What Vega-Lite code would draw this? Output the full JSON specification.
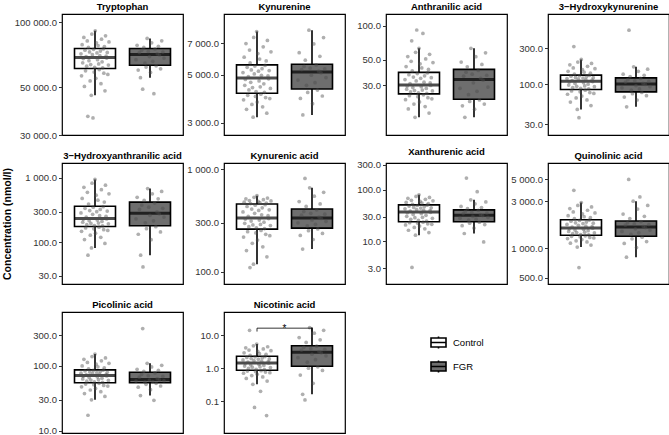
{
  "$schema": "https://vega.github.io/schema/vega-lite/v6.json",
  "autosize": {"type": "pad"},
  "padding": {"left": 2, "top": 0, "right": 0, "bottom": 0},
  "background": "white",
  "data": {
    "values": "m,g,v\nTRP,Control,71300\nTRP,Control,56400\nTRP,Control,78600\nTRP,Control,64750\nTRP,Control,67750\nTRP,Control,84860\nTRP,Control,50360\nTRP,Control,74100\nTRP,Control,59480\nTRP,Control,69200\nTRP,Control,62500\nTRP,Control,81740\nTRP,Control,36600\nTRP,Control,76280\nTRP,Control,66250\nTRP,Control,72700\nTRP,Control,53400\nTRP,Control,63600\nTRP,Control,45800\nTRP,Control,87980\nTRP,Control,70600\nTRP,Control,36000\nTRP,Control,74800\nTRP,Control,58720\nTRP,Control,61750\nTRP,Control,91100\nTRP,Control,54920\nTRP,Control,80180\nTRP,Control,72000\nTRP,Control,67000\nTRP,Control,77840\nTRP,Control,64000\nTRP,Control,60240\nTRP,Control,69900\nTRP,Control,73400\nTRP,Control,51880\nTRP,Control,83300\nTRP,Control,65500\nTRP,Control,61400\nTRP,Control,75150\nTRP,Control,57960\nTRP,Control,77060\nTRP,Control,48080\nTRP,Control,86420\nTRP,Control,69550\nTRP,Control,68125\nTRP,Control,72350\nTRP,Control,57200\nTRP,Control,63250\nTRP,Control,80960\nTRP,FGR,66950\nTRP,FGR,78050\nTRP,FGR,59980\nTRP,FGR,72210\nTRP,FGR,55300\nTRP,FGR,74090\nTRP,FGR,48900\nTRP,FGR,76350\nTRP,FGR,64640\nTRP,FGR,61930\nTRP,FGR,84000\nTRP,FGR,73150\nTRP,FGR,69260\nTRP,FGR,58420\nTRP,FGR,80175\nTRP,FGR,65795\nTRP,FGR,46600\nTRP,FGR,75030\nTRP,FGR,62710\nTRP,FGR,71270\nTRP,FGR,77200\nTRP,FGR,70415\nTRP,FGR,60760\nTRP,FGR,81875\nTRP,FGR,72680\nTRP,FGR,68105\nKYN,Control,5122\nKYN,Control,3831\nKYN,Control,6034\nKYN,Control,4470\nKYN,Control,4758\nKYN,Control,6982\nKYN,Control,3459\nKYN,Control,5414\nKYN,Control,4017\nKYN,Control,4903\nKYN,Control,4254\nKYN,Control,6508\nKYN,Control,5679\nKYN,Control,4614\nKYN,Control,5268\nKYN,Control,3645\nKYN,Control,4362\nKYN,Control,3180\nKYN,Control,7456\nKYN,Control,5049\nKYN,Control,5487\nKYN,Control,3971\nKYN,Control,4182\nKYN,Control,7930\nKYN,Control,3738\nKYN,Control,6271\nKYN,Control,5195\nKYN,Control,4686\nKYN,Control,5916\nKYN,Control,4398\nKYN,Control,4064\nKYN,Control,4976\nKYN,Control,5341\nKYN,Control,3552\nKYN,Control,6745\nKYN,Control,4542\nKYN,Control,4146\nKYN,Control,5524\nKYN,Control,3924\nKYN,Control,5797\nKYN,Control,3320\nKYN,Control,7219\nKYN,Control,4940\nKYN,Control,4794\nKYN,Control,5232\nKYN,Control,3878\nKYN,Control,4326\nKYN,Control,6390\nKYN,FGR,4725\nKYN,FGR,6335\nKYN,FGR,3884\nKYN,FGR,5285\nKYN,FGR,3260\nKYN,FGR,5465\nKYN,FGR,5845\nKYN,FGR,4470\nKYN,FGR,4144\nKYN,FGR,8050\nKYN,FGR,5375\nKYN,FGR,4980\nKYN,FGR,3676\nKYN,FGR,6948\nKYN,FGR,4598\nKYN,FGR,5555\nKYN,FGR,4248\nKYN,FGR,5195\nKYN,FGR,6090\nKYN,FGR,5108\nKYN,FGR,3988\nKYN,FGR,7438\nKYN,FGR,5330\nKYN,FGR,4853\nAA,Control,33.5\nAA,Control,22.3\nAA,Control,43.7\nAA,Control,27.6\nAA,Control,29.5\nAA,Control,53.4\nAA,Control,18.5\nAA,Control,37.0\nAA,Control,24.2\nAA,Control,30.9\nAA,Control,26.1\nAA,Control,48.6\nAA,Control,73.6\nAA,Control,40.0\nAA,Control,28.5\nAA,Control,35.3\nAA,Control,20.4\nAA,Control,26.8\nAA,Control,15.6\nAA,Control,58.3\nAA,Control,32.6\nAA,Control,91.6\nAA,Control,37.9\nAA,Control,23.7\nAA,Control,25.6\nAA,Control,63.2\nAA,Control,21.3\nAA,Control,46.1\nAA,Control,34.4\nAA,Control,29.0\nAA,Control,42.5\nAA,Control,27.1\nAA,Control,85.5\nAA,Control,24.6\nAA,Control,31.8\nAA,Control,36.2\nAA,Control,19.4\nAA,Control,51.0\nAA,Control,28.0\nAA,Control,25.3\nAA,Control,38.4\nAA,Control,23.2\nAA,Control,41.2\nAA,Control,17.0\nAA,Control,55.9\nAA,Control,31.3\nAA,Control,29.8\nAA,Control,34.8\nAA,Control,22.7\nAA,Control,26.6\nAA,Control,47.3\nAA,FGR,28.1\nAA,FGR,47.8\nAA,FGR,19.7\nAA,FGR,35.9\nAA,FGR,15.6\nAA,FGR,38.9\nAA,FGR,43.4\nAA,FGR,24.7\nAA,FGR,21.5\nAA,FGR,63.2\nAA,FGR,37.4\nAA,FGR,31.4\nAA,FGR,18.4\nAA,FGR,53.3\nAA,FGR,26.4\nAA,FGR,40.4\nAA,FGR,22.2\nAA,FGR,34.4\nAA,FGR,45.6\nAA,FGR,33.1\nAA,FGR,20.4\nAA,FGR,57.7\nAA,FGR,36.6\nAA,FGR,28.8\nHK,Control,119.4\nHK,Control,74.2\nHK,Control,149.0\nHK,Control,98.2\nHK,Control,108.0\nHK,Control,181.5\nHK,Control,58.5\nHK,Control,128.3\nHK,Control,82.0\nHK,Control,112.7\nHK,Control,90.8\nHK,Control,165.2\nHK,Control,316\nHK,Control,136.8\nHK,Control,103.1\nHK,Control,123.8\nHK,Control,66.4\nHK,Control,94.5\nHK,Control,46.8\nHK,Control,197.7\nHK,Control,117.2\nHK,Control,36.4\nHK,Control,130.5\nHK,Control,80.0\nHK,Control,88.4\nHK,Control,214\nHK,Control,70.3\nHK,Control,157.1\nHK,Control,121.6\nHK,Control,105.6\nHK,Control,144.9\nHK,Control,95.7\nHK,Control,84.0\nHK,Control,114.9\nHK,Control,126.0\nHK,Control,62.4\nHK,Control,173.4\nHK,Control,100.7\nHK,Control,87.1\nHK,Control,131.6\nHK,Control,78.1\nHK,Control,140.8\nHK,Control,52.7\nHK,Control,189.6\nHK,Control,113.8\nHK,Control,109.3\nHK,Control,122.7\nHK,Control,76.1\nHK,Control,93.3\nHK,Control,161.2\nHK,FGR,90.4\nHK,FGR,136.7\nHK,FGR,68.2\nHK,FGR,107.3\nHK,FGR,50.7\nHK,FGR,115.7\nHK,FGR,521\nHK,FGR,126.9\nHK,FGR,84.0\nHK,FGR,75.4\nHK,FGR,171\nHK,FGR,111.5\nHK,FGR,96.8\nHK,FGR,62.3\nHK,FGR,149.0\nHK,FGR,87.2\nHK,FGR,119.9\nHK,FGR,78.3\nHK,FGR,103.1\nHK,FGR,131.8\nHK,FGR,99.9\nHK,FGR,71.1\nHK,FGR,158.8\nHK,FGR,109.4\nHK,FGR,93.6\nHAA,Control,285\nHAA,Control,147.7\nHAA,Control,479\nHAA,Control,204.5\nHAA,Control,227.3\nHAA,Control,712\nHAA,Control,110\nHAA,Control,337\nHAA,Control,166.6\nHAA,Control,246\nHAA,Control,187.4\nHAA,Control,595\nHAA,Control,63\nHAA,Control,392\nHAA,Control,215.9\nHAA,Control,311\nHAA,Control,128.9\nHAA,Control,196\nHAA,Control,81.7\nHAA,Control,828\nHAA,Control,272\nHAA,Control,350\nHAA,Control,161.9\nHAA,Control,181.7\nHAA,Control,944\nHAA,Control,138.3\nHAA,Control,537\nHAA,Control,298\nHAA,Control,221.6\nHAA,Control,450\nHAA,Control,198.8\nHAA,Control,171.3\nHAA,Control,259\nHAA,Control,324\nHAA,Control,119.4\nHAA,Control,654\nHAA,Control,210.2\nHAA,Control,178.9\nHAA,Control,356\nHAA,Control,157.1\nHAA,Control,421\nHAA,Control,95.8\nHAA,Control,770\nHAA,Control,252.5\nHAA,Control,230.2\nHAA,Control,304.5\nHAA,Control,152.4\nHAA,Control,193.1\nHAA,Control,566\nHAA,FGR,231\nHAA,FGR,498.6\nHAA,FGR,133.2\nHAA,FGR,323.4\nHAA,FGR,63\nHAA,FGR,378.6\nHAA,FGR,41.4\nHAA,FGR,446.2\nHAA,FGR,200.4\nHAA,FGR,162.5\nHAA,FGR,682\nHAA,FGR,351\nHAA,FGR,261.6\nHAA,FGR,109.8\nHAA,FGR,564.1\nHAA,FGR,215.7\nHAA,FGR,406.2\nHAA,FGR,174.2\nHAA,FGR,295.8\nHAA,FGR,472.4\nHAA,FGR,276.9\nHAA,FGR,144.9\nHAA,FGR,616.5\nHAA,FGR,337.2\nHAA,FGR,246.3\nKA,Control,383.6\nKA,Control,217.4\nKA,Control,476.8\nKA,Control,297\nKA,Control,326.6\nKA,Control,514.4\nKA,Control,160.6\nKA,Control,433.2\nKA,Control,245.8\nKA,Control,346.4\nKA,Control,274.8\nKA,Control,495.6\nKA,Control,109.5\nKA,Control,462.7\nKA,Control,311.8\nKA,Control,408.4\nKA,Control,189\nKA,Control,285.9\nKA,Control,118\nKA,Control,533.2\nKA,Control,371.2\nKA,Control,445.6\nKA,Control,238.7\nKA,Control,267.4\nKA,Control,552\nKA,Control,203.2\nKA,Control,486.2\nKA,Control,396\nKA,Control,319.2\nKA,Control,472.1\nKA,Control,289.6\nKA,Control,252.9\nKA,Control,358.8\nKA,Control,420.8\nKA,Control,174.8\nKA,Control,505\nKA,Control,304.4\nKA,Control,263.7\nKA,Control,451.8\nKA,Control,231.6\nKA,Control,467.4\nKA,Control,139.3\nKA,Control,523.8\nKA,Control,352.6\nKA,Control,330.3\nKA,Control,402.2\nKA,Control,224.5\nKA,Control,282.2\nKA,Control,490.9\nKA,FGR,300\nKA,FGR,484\nKA,FGR,226\nKA,FGR,356.5\nKA,FGR,166\nKA,FGR,386.5\nKA,FGR,815\nKA,FGR,434\nKA,FGR,279.6\nKA,FGR,251\nKA,FGR,659\nKA,FGR,371.5\nKA,FGR,320.4\nKA,FGR,206\nKA,FGR,546.5\nKA,FGR,289.8\nKA,FGR,401.5\nKA,FGR,261\nKA,FGR,341.5\nKA,FGR,459\nKA,FGR,330.6\nKA,FGR,236\nKA,FGR,596.5\nKA,FGR,364\nKA,FGR,310.2\nXA,Control,42.4\nXA,Control,20.7\nXA,Control,56.3\nXA,Control,30.4\nXA,Control,35.6\nXA,Control,67.8\nXA,Control,16.3\nXA,Control,47.9\nXA,Control,22.8\nXA,Control,38.3\nXA,Control,26.5\nXA,Control,62.1\nXA,Control,3.1\nXA,Control,52.0\nXA,Control,33.0\nXA,Control,45.1\nXA,Control,18.5\nXA,Control,28.5\nXA,Control,13.1\nXA,Control,73.6\nXA,Control,41.0\nXA,Control,49.2\nXA,Control,22.3\nXA,Control,25.2\nXA,Control,79.3\nXA,Control,19.6\nXA,Control,59.2\nXA,Control,43.8\nXA,Control,34.3\nXA,Control,54.9\nXA,Control,29.1\nXA,Control,23.4\nXA,Control,39.6\nXA,Control,46.5\nXA,Control,17.4\nXA,Control,65.0\nXA,Control,31.7\nXA,Control,24.6\nXA,Control,49.9\nXA,Control,21.7\nXA,Control,53.5\nXA,Control,14.7\nXA,Control,70.7\nXA,Control,39.0\nXA,Control,36.3\nXA,Control,44.4\nXA,Control,21.2\nXA,Control,27.8\nXA,Control,60.6\nXA,FGR,27.9\nXA,FGR,47.3\nXA,FGR,20.0\nXA,FGR,34.4\nXA,FGR,14.1\nXA,FGR,37.8\nXA,FGR,167\nXA,FGR,42.7\nXA,FGR,25.5\nXA,FGR,22.4\nXA,FGR,63.3\nXA,FGR,36.1\nXA,FGR,30.2\nXA,FGR,18.0\nXA,FGR,53.0\nXA,FGR,26.7\nXA,FGR,91.4\nXA,FGR,39.5\nXA,FGR,23.4\nXA,FGR,32.7\nXA,FGR,45.0\nXA,FGR,31.4\nXA,FGR,9.7\nXA,FGR,21.0\nXA,FGR,57.6\nXA,FGR,35.2\nXA,FGR,29.0\nQA,Control,1740\nQA,Control,1252\nQA,Control,2139\nQA,Control,1477\nQA,Control,1578\nQA,Control,2524\nQA,Control,1122\nQA,Control,1877\nQA,Control,1317\nQA,Control,1637\nQA,Control,1401\nQA,Control,2332\nQA,Control,3880\nQA,Control,1994\nQA,Control,1527\nQA,Control,1809\nQA,Control,1187\nQA,Control,1439\nQA,Control,1024\nQA,Control,2717\nQA,Control,1706\nQA,Control,634\nQA,Control,1912\nQA,Control,1301\nQA,Control,1375\nQA,Control,2910\nQA,Control,1220\nQA,Control,2235\nQA,Control,1775\nQA,Control,1552\nQA,Control,2091\nQA,Control,1451\nQA,Control,1334\nQA,Control,1672\nQA,Control,1843\nQA,Control,1154\nQA,Control,2428\nQA,Control,1502\nQA,Control,1363\nQA,Control,1929\nQA,Control,1285\nQA,Control,2042\nQA,Control,1073\nQA,Control,2621\nQA,Control,1654\nQA,Control,1593\nQA,Control,1792\nQA,Control,1269\nQA,Control,1426\nQA,Control,2283\nQA,FGR,1477\nQA,FGR,2220\nQA,FGR,1114\nQA,FGR,1711\nQA,FGR,809\nQA,FGR,1810\nQA,FGR,5000\nQA,FGR,1997\nQA,FGR,1382\nQA,FGR,1242\nQA,FGR,3000\nQA,FGR,1761\nQA,FGR,1572\nQA,FGR,1013\nQA,FGR,2498\nQA,FGR,1429\nQA,FGR,3320\nQA,FGR,1860\nQA,FGR,1293\nQA,FGR,1661\nQA,FGR,2108\nQA,FGR,1620\nQA,FGR,1165\nQA,FGR,2721\nQA,FGR,1736\nQA,FGR,1525\nPA,Control,77.4\nPA,Control,47.5\nPA,Control,100.1\nPA,Control,63\nPA,Control,69.4\nPA,Control,126.6\nPA,Control,37.5\nPA,Control,83.7\nPA,Control,52.5\nPA,Control,72.6\nPA,Control,58.2\nPA,Control,113.3\nPA,Control,17.3\nPA,Control,90.2\nPA,Control,66.2\nPA,Control,80.5\nPA,Control,42.5\nPA,Control,60.6\nPA,Control,30\nPA,Control,139.8\nPA,Control,75.8\nPA,Control,85.3\nPA,Control,51.3\nPA,Control,56.6\nPA,Control,153\nPA,Control,45\nPA,Control,106.7\nPA,Control,79\nPA,Control,67.8\nPA,Control,96.8\nPA,Control,61.4\nPA,Control,53.8\nPA,Control,74.2\nPA,Control,82.1\nPA,Control,40\nPA,Control,120\nPA,Control,64.6\nPA,Control,55.8\nPA,Control,86.1\nPA,Control,50\nPA,Control,93.5\nPA,Control,33.8\nPA,Control,133.2\nPA,Control,73.4\nPA,Control,70.2\nPA,Control,79.7\nPA,Control,48.8\nPA,Control,59.8\nPA,Control,110\nPA,FGR,58.4\nPA,FGR,88.9\nPA,FGR,47\nPA,FGR,67.1\nPA,FGR,34.9\nPA,FGR,74.4\nPA,FGR,379\nPA,FGR,82.8\nPA,FGR,56.3\nPA,FGR,52\nPA,FGR,110\nPA,FGR,70.8\nPA,FGR,60.4\nPA,FGR,42.9\nPA,FGR,96.4\nPA,FGR,57.3\nPA,FGR,29.5\nPA,FGR,78\nPA,FGR,54\nPA,FGR,63.5\nPA,FGR,85.8\nPA,FGR,61.1\nPA,FGR,49\nPA,FGR,102.5\nPA,FGR,68.9\nPA,FGR,59.1\nNIC,Control,1.78\nNIC,Control,0.707\nNIC,Control,2.906\nNIC,Control,1.155\nNIC,Control,1.383\nNIC,Control,4.138\nNIC,Control,0.489\nNIC,Control,2.12\nNIC,Control,0.816\nNIC,Control,1.525\nNIC,Control,0.984\nNIC,Control,3.522\nNIC,Control,14\nNIC,Control,2.444\nNIC,Control,1.269\nNIC,Control,1.95\nNIC,Control,0.598\nNIC,Control,1.07\nNIC,Control,0.325\nNIC,Control,4.754\nNIC,Control,1.695\nNIC,Control,0.065\nNIC,Control,2.205\nNIC,Control,0.788\nNIC,Control,0.927\nNIC,Control,5.37\nNIC,Control,0.652\nNIC,Control,3.214\nNIC,Control,1.865\nNIC,Control,1.326\nNIC,Control,2.752\nNIC,Control,1.098\nNIC,Control,0.2\nNIC,Control,0.843\nNIC,Control,1.61\nNIC,Control,2.035\nNIC,Control,0.543\nNIC,Control,3.83\nNIC,Control,1.212\nNIC,Control,0.899\nNIC,Control,2.248\nNIC,Control,0.761\nNIC,Control,2.598\nNIC,Control,0.037\nNIC,Control,0.407\nNIC,Control,4.446\nNIC,Control,1.568\nNIC,Control,1.412\nNIC,Control,1.908\nNIC,Control,0.734\nNIC,Control,1.041\nNIC,Control,3.368\nNIC,FGR,2.08\nNIC,FGR,8.42\nNIC,FGR,0.62\nNIC,FGR,3.54\nNIC,FGR,0.162\nNIC,FGR,4.26\nNIC,FGR,0.11\nNIC,FGR,6.0\nNIC,FGR,1.52\nNIC,FGR,1.0\nNIC,FGR,16.9\nNIC,FGR,3.9\nNIC,FGR,2.64\nNIC,FGR,0.35\nNIC,FGR,11.45\nNIC,FGR,1.80\nNIC,FGR,4.61\nNIC,FGR,1.10\nNIC,FGR,3.19\nNIC,FGR,7.21\nNIC,FGR,2.92\nNIC,FGR,0.854\nNIC,FGR,13.9\nNIC,FGR,3.72\nNIC,FGR,2.36",
    "format": {"type": "csv", "parse": {"v": "number"}}
  },
  "datasets": {
    "box": [
      {"m": "TRP", "g": "Control", "lo": 45800, "q1": 61000, "med": 68500, "q3": 75500, "hi": 91100},
      {"m": "TRP", "g": "FGR", "lo": 55300, "q1": 63100, "med": 70800, "q3": 75500, "hi": 84000},
      {"m": "KYN", "g": "Control", "lo": 3180, "q1": 4110, "med": 4830, "q3": 5560, "hi": 7930},
      {"m": "KYN", "g": "FGR", "lo": 3260, "q1": 4300, "med": 5150, "q3": 5600, "hi": 8050},
      {"m": "AA", "g": "Control", "lo": 15.6, "q1": 25.1, "med": 30.0, "q3": 38.8, "hi": 63.2},
      {"m": "AA", "g": "FGR", "lo": 15.6, "q1": 22.5, "med": 33.6, "q3": 41.2, "hi": 63.2},
      {"m": "HK", "g": "Control", "lo": 46.8, "q1": 85.9, "med": 110.5, "q3": 132.7, "hi": 214},
      {"m": "HK", "g": "FGR", "lo": 50.7, "q1": 79.8, "med": 101, "q3": 122, "hi": 171},
      {"m": "HAA", "g": "Control", "lo": 81.7, "q1": 176, "med": 233, "q3": 363, "hi": 944},
      {"m": "HAA", "g": "FGR", "lo": 63, "q1": 180, "med": 282, "q3": 420, "hi": 682},
      {"m": "KA", "g": "Control", "lo": 118, "q1": 260, "med": 334, "q3": 458, "hi": 552},
      {"m": "KA", "g": "FGR", "lo": 166, "q1": 266, "med": 334, "q3": 409, "hi": 659},
      {"m": "XA", "g": "Control", "lo": 13.1, "q1": 23.9, "med": 36.9, "q3": 50.6, "hi": 79.3},
      {"m": "XA", "g": "FGR", "lo": 14.1, "q1": 23.9, "med": 31.8, "q3": 40.4, "hi": 63.3},
      {"m": "QA", "g": "Control", "lo": 1024, "q1": 1350, "med": 1603, "q3": 1946, "hi": 2910},
      {"m": "QA", "g": "FGR", "lo": 809, "q1": 1318, "med": 1636, "q3": 1885, "hi": 3000},
      {"m": "PA", "g": "Control", "lo": 30, "q1": 55, "med": 71, "q3": 86.9, "hi": 153},
      {"m": "PA", "g": "FGR", "lo": 34.9, "q1": 55, "med": 61.7, "q3": 79.8, "hi": 110},
      {"m": "NIC", "g": "Control", "lo": 0.325, "q1": 0.87, "med": 1.44, "q3": 2.29, "hi": 5.37},
      {"m": "NIC", "g": "FGR", "lo": 0.162, "q1": 1.15, "med": 3.01, "q3": 4.79, "hi": 16.9}
    ]
  },
  "transform": [
    {"window": [{"op": "row_number", "as": "i"}], "groupby": ["m", "g"]},
    {"window": [{"op": "percent_rank", "as": "j"}], "sort": [{"field": "i"}], "groupby": ["m", "g"]}
  ],
  "columns": 4,
  "spacing": {"row": 28, "column": 41},
  "bounds": "flush",
  "concat": [
    {"title": "Tryptophan", "width": 121, "height": 121,
     "encoding": {"x": {"field": "g", "type": "nominal", "axis": null}},
     "layer": [
      {"data": {"name": "box"}, "transform": [{"filter": "datum.m == 'TRP'"}], "layer": [
        {"mark": "rule", "encoding": {"y": {"field": "lo", "type": "quantitative", "title": null, "scale": {"type": "log", "domain": [30000, 109000], "nice": false}, "axis": {"values": [30000, 50000, 100000], "title": null}}, "y2": {"field": "hi"}}},
        {"mark": {"type": "bar", "width": 41}, "encoding": {"y": {"field": "q1", "type": "quantitative", "title": null}, "y2": {"field": "q3"}, "color": {"field": "g", "type": "nominal", "title": null}}},
        {"mark": {"type": "tick", "size": 41}, "encoding": {"y": {"field": "med", "type": "quantitative", "title": null}}}
      ]},
      {"transform": [{"filter": "datum.m == 'TRP'"}], "mark": "point", "encoding": {"xOffset": {"field": "j", "type": "quantitative", "scale": {"domain": [0, 1], "range": [0, 28]}}, "y": {"field": "v", "type": "quantitative", "title": null}}}
     ]},
    {"title": "Kynurenine", "width": 121, "height": 121,
     "encoding": {"x": {"field": "g", "type": "nominal", "axis": null}},
     "layer": [
      {"data": {"name": "box"}, "transform": [{"filter": "datum.m == 'KYN'"}], "layer": [
        {"mark": "rule", "encoding": {"y": {"field": "lo", "type": "quantitative", "title": null, "scale": {"type": "log", "domain": [2630, 9570], "nice": false}, "axis": {"values": [3000, 5000, 7000], "title": null}}, "y2": {"field": "hi"}}},
        {"mark": {"type": "bar", "width": 41}, "encoding": {"y": {"field": "q1", "type": "quantitative", "title": null}, "y2": {"field": "q3"}, "color": {"field": "g", "type": "nominal", "title": null}}},
        {"mark": {"type": "tick", "size": 41}, "encoding": {"y": {"field": "med", "type": "quantitative", "title": null}}}
      ]},
      {"transform": [{"filter": "datum.m == 'KYN'"}], "mark": "point", "encoding": {"xOffset": {"field": "j", "type": "quantitative", "scale": {"domain": [0, 1], "range": [0, 28]}}, "y": {"field": "v", "type": "quantitative", "title": null}}}
     ]},
    {"title": "Anthranilic acid", "width": 121, "height": 121,
     "encoding": {"x": {"field": "g", "type": "nominal", "axis": null}},
     "layer": [
      {"data": {"name": "box"}, "transform": [{"filter": "datum.m == 'AA'"}], "layer": [
        {"mark": "rule", "encoding": {"y": {"field": "lo", "type": "quantitative", "title": null, "scale": {"type": "log", "domain": [10.9, 126.7], "nice": false}, "axis": {"values": [30, 50, 100], "title": null}}, "y2": {"field": "hi"}}},
        {"mark": {"type": "bar", "width": 41}, "encoding": {"y": {"field": "q1", "type": "quantitative", "title": null}, "y2": {"field": "q3"}, "color": {"field": "g", "type": "nominal", "title": null}}},
        {"mark": {"type": "tick", "size": 41}, "encoding": {"y": {"field": "med", "type": "quantitative", "title": null}}}
      ]},
      {"transform": [{"filter": "datum.m == 'AA'"}], "mark": "point", "encoding": {"xOffset": {"field": "j", "type": "quantitative", "scale": {"domain": [0, 1], "range": [0, 28]}}, "y": {"field": "v", "type": "quantitative", "title": null}}}
     ]},
    {"title": "3−Hydroxykynurenine", "width": 121, "height": 121,
     "encoding": {"x": {"field": "g", "type": "nominal", "axis": null}},
     "layer": [
      {"data": {"name": "box"}, "transform": [{"filter": "datum.m == 'HK'"}], "layer": [
        {"mark": "rule", "encoding": {"y": {"field": "lo", "type": "quantitative", "title": null, "scale": {"type": "log", "domain": [21.5, 851], "nice": false}, "axis": {"values": [30, 100, 300], "title": null}}, "y2": {"field": "hi"}}},
        {"mark": {"type": "bar", "width": 41}, "encoding": {"y": {"field": "q1", "type": "quantitative", "title": null}, "y2": {"field": "q3"}, "color": {"field": "g", "type": "nominal", "title": null}}},
        {"mark": {"type": "tick", "size": 41}, "encoding": {"y": {"field": "med", "type": "quantitative", "title": null}}}
      ]},
      {"transform": [{"filter": "datum.m == 'HK'"}], "mark": "point", "encoding": {"xOffset": {"field": "j", "type": "quantitative", "scale": {"domain": [0, 1], "range": [0, 28]}}, "y": {"field": "v", "type": "quantitative", "title": null}}}
     ]},
    {"title": "3−Hydroxyanthranilic acid", "width": 121, "height": 121,
     "encoding": {"x": {"field": "g", "type": "nominal", "axis": null}},
     "layer": [
      {"data": {"name": "box"}, "transform": [{"filter": "datum.m == 'HAA'"}], "layer": [
        {"mark": "rule", "encoding": {"y": {"field": "lo", "type": "quantitative", "title": "Concentration (nmol/l)", "scale": {"type": "log", "domain": [22.5, 1700], "nice": false}, "axis": {"values": [30, 100, 300, 1000], "title": "Concentration (nmol/l)", "titlePadding": 12}}, "y2": {"field": "hi"}}},
        {"mark": {"type": "bar", "width": 41}, "encoding": {"y": {"field": "q1", "type": "quantitative", "title": "Concentration (nmol/l)"}, "y2": {"field": "q3"}, "color": {"field": "g", "type": "nominal", "title": null}}},
        {"mark": {"type": "tick", "size": 41}, "encoding": {"y": {"field": "med", "type": "quantitative", "title": "Concentration (nmol/l)"}}}
      ]},
      {"transform": [{"filter": "datum.m == 'HAA'"}], "mark": "point", "encoding": {"xOffset": {"field": "j", "type": "quantitative", "scale": {"domain": [0, 1], "range": [0, 28]}}, "y": {"field": "v", "type": "quantitative", "title": "Concentration (nmol/l)"}}}
     ]},
    {"title": "Kynurenic acid", "width": 121, "height": 121,
     "encoding": {"x": {"field": "g", "type": "nominal", "axis": null}},
     "layer": [
      {"data": {"name": "box"}, "transform": [{"filter": "datum.m == 'KA'"}], "layer": [
        {"mark": "rule", "encoding": {"y": {"field": "lo", "type": "quantitative", "title": null, "scale": {"type": "log", "domain": [75.6, 1154], "nice": false}, "axis": {"values": [100, 300, 1000], "title": null}}, "y2": {"field": "hi"}}},
        {"mark": {"type": "bar", "width": 41}, "encoding": {"y": {"field": "q1", "type": "quantitative", "title": null}, "y2": {"field": "q3"}, "color": {"field": "g", "type": "nominal", "title": null}}},
        {"mark": {"type": "tick", "size": 41}, "encoding": {"y": {"field": "med", "type": "quantitative", "title": null}}}
      ]},
      {"transform": [{"filter": "datum.m == 'KA'"}], "mark": "point", "encoding": {"xOffset": {"field": "j", "type": "quantitative", "scale": {"domain": [0, 1], "range": [0, 28]}}, "y": {"field": "v", "type": "quantitative", "title": null}}}
     ]},
    {"title": "Xanthurenic acid", "width": 121, "height": 121,
     "encoding": {"x": {"field": "g", "type": "nominal", "axis": null}},
     "layer": [
      {"data": {"name": "box"}, "transform": [{"filter": "datum.m == 'XA'"}], "layer": [
        {"mark": "rule", "encoding": {"y": {"field": "lo", "type": "quantitative", "title": null, "scale": {"type": "log", "domain": [1.48, 328], "nice": false}, "axis": {"values": [3, 10, 30, 100, 300], "title": null}}, "y2": {"field": "hi"}}},
        {"mark": {"type": "bar", "width": 41}, "encoding": {"y": {"field": "q1", "type": "quantitative", "title": null}, "y2": {"field": "q3"}, "color": {"field": "g", "type": "nominal", "title": null}}},
        {"mark": {"type": "tick", "size": 41}, "encoding": {"y": {"field": "med", "type": "quantitative", "title": null}}}
      ]},
      {"transform": [{"filter": "datum.m == 'XA'"}], "mark": "point", "encoding": {"xOffset": {"field": "j", "type": "quantitative", "scale": {"domain": [0, 1], "range": [0, 28]}}, "y": {"field": "v", "type": "quantitative", "title": null}}}
     ]},
    {"title": "Quinolinic acid", "width": 121, "height": 121,
     "encoding": {"x": {"field": "g", "type": "nominal", "axis": null}},
     "layer": [
      {"data": {"name": "box"}, "transform": [{"filter": "datum.m == 'QA'"}], "layer": [
        {"mark": "rule", "encoding": {"y": {"field": "lo", "type": "quantitative", "title": null, "scale": {"type": "log", "domain": [431, 7350], "nice": false}, "axis": {"values": [500, 1000, 3000, 5000], "title": null}}, "y2": {"field": "hi"}}},
        {"mark": {"type": "bar", "width": 41}, "encoding": {"y": {"field": "q1", "type": "quantitative", "title": null}, "y2": {"field": "q3"}, "color": {"field": "g", "type": "nominal", "title": null}}},
        {"mark": {"type": "tick", "size": 41}, "encoding": {"y": {"field": "med", "type": "quantitative", "title": null}}}
      ]},
      {"transform": [{"filter": "datum.m == 'QA'"}], "mark": "point", "encoding": {"xOffset": {"field": "j", "type": "quantitative", "scale": {"domain": [0, 1], "range": [0, 28]}}, "y": {"field": "v", "type": "quantitative", "title": null}}}
     ]},
    {"title": "Picolinic acid", "width": 121, "height": 121,
     "encoding": {"x": {"field": "g", "type": "nominal", "axis": null}},
     "layer": [
      {"data": {"name": "box"}, "transform": [{"filter": "datum.m == 'PA'"}], "layer": [
        {"mark": "rule", "encoding": {"y": {"field": "lo", "type": "quantitative", "title": null, "scale": {"type": "log", "domain": [9.2, 682], "nice": false}, "axis": {"values": [10, 30, 100, 300], "title": null}}, "y2": {"field": "hi"}}},
        {"mark": {"type": "bar", "width": 41}, "encoding": {"y": {"field": "q1", "type": "quantitative", "title": null}, "y2": {"field": "q3"}, "color": {"field": "g", "type": "nominal", "title": null}}},
        {"mark": {"type": "tick", "size": 41}, "encoding": {"y": {"field": "med", "type": "quantitative", "title": null}}}
      ]},
      {"transform": [{"filter": "datum.m == 'PA'"}], "mark": "point", "encoding": {"xOffset": {"field": "j", "type": "quantitative", "scale": {"domain": [0, 1], "range": [0, 28]}}, "y": {"field": "v", "type": "quantitative", "title": null}}}
     ]},
    {"title": "Nicotinic acid", "width": 121, "height": 121,
     "layer": [
      {"encoding": {"x": {"field": "g", "type": "nominal", "axis": null}},
       "layer": [
        {"data": {"name": "box"}, "transform": [{"filter": "datum.m == 'NIC'"}], "layer": [
          {"mark": "rule", "encoding": {"y": {"field": "lo", "type": "quantitative", "title": null, "scale": {"type": "log", "domain": [0.011, 49.9], "nice": false}, "axis": {"values": [0.1, 1, 10], "title": null}}, "y2": {"field": "hi"}}},
          {"mark": {"type": "bar", "width": 41}, "encoding": {"y": {"field": "q1", "type": "quantitative", "title": null}, "y2": {"field": "q3"}, "color": {"field": "g", "type": "nominal", "title": null}}},
          {"mark": {"type": "tick", "size": 41}, "encoding": {"y": {"field": "med", "type": "quantitative", "title": null}}}
        ]},
        {"transform": [{"filter": "datum.m == 'NIC'"}], "mark": "point", "encoding": {"xOffset": {"field": "j", "type": "quantitative", "scale": {"domain": [0, 1], "range": [0, 28]}}, "y": {"field": "v", "type": "quantitative", "title": null}}},
        {"data": {"values": [{"g": "Control", "y": 12.8, "o": 1}, {"g": "Control", "y": 16.2, "o": 2}, {"g": "FGR", "y": 16.2, "o": 3}, {"g": "FGR", "y": 12.8, "o": 4}]},
         "mark": {"type": "line", "color": "black", "strokeWidth": 0.8},
         "encoding": {"y": {"field": "y", "type": "quantitative", "title": null}, "order": {"field": "o"}}}
       ]},
      {"data": {"values": [{"t": "*", "y": 16.2}]},
       "mark": {"type": "text", "font": "Liberation Sans", "fontSize": 10, "baseline": "alphabetic", "dy": 4, "color": "black"},
       "encoding": {"text": {"field": "t"}, "y": {"field": "y", "type": "quantitative", "title": null}}}
     ]}
  ],
  "config": {
    "font": "Liberation Sans",
    "view": {"stroke": "black", "strokeWidth": 1.2},
    "title": {"font": "Liberation Sans", "fontSize": 9.5, "fontWeight": "bold", "color": "black", "offset": 3, "anchor": "middle"},
    "axis": {"labelFont": "Liberation Sans", "labelFontSize": 9.5, "labelColor": "#333333", "tickColor": "#333333", "tickSize": 3.5, "tickWidth": 1, "domain": false, "grid": false, "labelPadding": 2, "labelFlush": false, "labelOverlap": false, "titleFont": "Liberation Sans", "titleFontSize": 10.5, "titleFontWeight": "bold", "titleColor": "black"},
    "axisY": {"labelExpr": "replace(format(datum.value, ',.1f'), ',', ' ')"},
    "scale": {"bandPaddingInner": 0.49, "bandPaddingOuter": 0.345},
    "range": {"category": ["#ffffff", "#6e6e6e"]},
    "rule": {"color": "black", "strokeWidth": 1.6},
    "bar": {"stroke": "black", "strokeWidth": 1.6},
    "tick": {"color": "black", "thickness": 3},
    "point": {"filled": true, "color": "#4d4d4d", "opacity": 0.45, "size": 14, "strokeWidth": 0},
    "legend": {"orient": "none", "legendX": 368, "legendY": 320, "symbolType": "M-1,-0.6H1V0.6H-1Z M-1,0H1 M0,-0.6V-0.8 M0,0.6V0.8", "symbolSize": 225, "symbolStrokeColor": "black", "symbolStrokeWidth": 1.3, "symbolOpacity": 1, "labelFont": "Liberation Sans", "labelFontSize": 9.5, "labelColor": "black", "rowPadding": 5, "labelOffset": 6}
  }
}
